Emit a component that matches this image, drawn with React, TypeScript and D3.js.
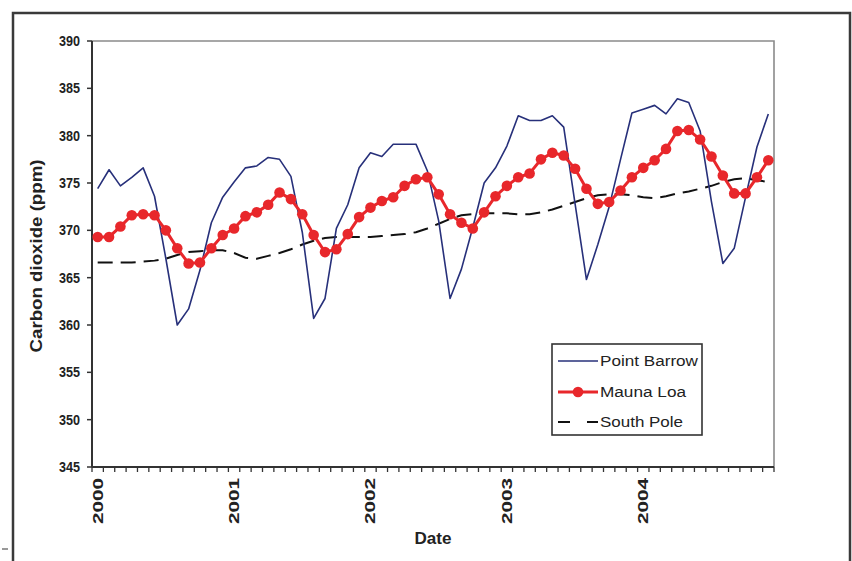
import React from 'react';
import * as d3 from 'd3';

const years = ['2000', '2001', '2002', '2003', '2004'];
const yTicks = [345, 350, 355, 360, 365, 370, 375, 380, 385, 390];
const seriesNames = ['Point Barrow', 'Mauna Loa', 'South Pole'];

const pointBarrow = [
  374.4, 376.4, 374.7, 375.6, 376.6, 373.6, 367.0, 360.0, 361.7, 365.8, 370.8, 373.5,
  375.1, 376.6, 376.8, 377.7, 377.5, 375.7, 369.8, 360.7, 362.8, 370.2, 372.7, 376.6,
  378.2, 377.8, 379.1, 379.1, 379.1, 376.3, 371.0, 362.8, 365.9, 370.3, 375.0, 376.6,
  378.9, 382.1, 381.6, 381.6, 382.1, 380.9, 372.8, 364.8, 368.5, 372.5, 377.5, 382.4,
  382.8, 383.2, 382.3, 383.9, 383.5, 380.5, 373.0, 366.5, 368.1, 373.5, 378.8, 382.3,
];

const maunaLoa = [
  369.3, 369.3, 370.4, 371.6, 371.7, 371.6, 370.0, 368.1, 366.5, 366.6, 368.1, 369.5,
  370.2, 371.5, 371.9, 372.7, 374.0, 373.3, 371.7, 369.5, 367.7, 368.0, 369.6, 371.4,
  372.4, 373.1, 373.5, 374.7, 375.4, 375.6, 373.8, 371.7, 370.8, 370.2, 371.9, 373.6,
  374.7, 375.6, 376.0, 377.5, 378.2, 377.9, 376.5, 374.4, 372.8, 373.0, 374.2, 375.6,
  376.6, 377.4, 378.6, 380.5, 380.6, 379.6, 377.8, 375.8, 373.9, 373.9, 375.6, 377.4,
];

const southPole = [
  366.6, 366.6, 366.6, 366.6, 366.7, 366.8, 367.0, 367.4, 367.7, 367.8, 367.9, 367.9,
  367.6, 367.1, 367.0, 367.3, 367.6, 368.0, 368.5, 368.9, 369.2, 369.3, 369.3, 369.3,
  369.3, 369.4, 369.5, 369.6, 369.8, 370.2, 370.7, 371.2, 371.6, 371.7, 371.8, 371.8,
  371.8, 371.7, 371.7, 371.9, 372.2, 372.6, 373.0, 373.4, 373.7, 373.8, 373.8, 373.7,
  373.5, 373.4, 373.6, 373.9, 374.1, 374.4, 374.7, 375.1, 375.4, 375.5, 375.3, 375.1,
];

const FONT = '"Liberation Sans Narrow", "Arial Narrow", "Liberation Sans", Arial, sans-serif';

export default function App() {
  const W = 852;
  const H = 561;
  const left = 92;
  const right = 774;
  const top = 41;
  const bottom = 467;

  const months = d3.range(pointBarrow.length);
  const x = d3.scaleBand<number>().domain(months).range([left, right]).padding(0);
  const y = d3.scaleLinear().domain([345, 390]).range([bottom, top]);
  const cx = (i: number) => (x(i) as number) + x.bandwidth() / 2;

  const line = d3
    .line<number>()
    .x((_, i) => cx(i))
    .y((d) => y(d));

  const red = '#e8272b';
  const navy = '#27307a';

  const boundaries = d3.range(pointBarrow.length + 1).map((i) => left + i * x.bandwidth());

  const legX = 552;
  const legY = 344;
  const legRows = [361, 392, 422];

  return (
    <svg
      width={W}
      height={H}
      style={{ position: 'absolute', left: 0, top: 0, background: '#fff' }}
      fontFamily={FONT}
    >
      <rect x={0} y={0} width={W} height={H} fill="#fff" />
      {/* outer frame */}
      <path d={`M13,${H + 5} L13,13 L850,13 L850,${H + 5}`} fill="none" stroke="#3a3a3a" strokeWidth={2.5} />
      <line x1={2} x2={8} y1={549} y2={549} stroke="#555" strokeWidth={1.2} />

      {/* plot area border top/right */}
      <path d={`M${left},${top} L${right},${top} L${right},${bottom}`} fill="none" stroke="#8a8a8a" strokeWidth={1.6} />

      {/* y axis */}
      <line x1={left} x2={left} y1={top} y2={bottom} stroke="#333" strokeWidth={2} />
      {yTicks.map((t) => (
        <g key={t}>
          <line x1={left - 5} x2={left} y1={y(t)} y2={y(t)} stroke="#333" strokeWidth={1.5} />
          <text
            x={80}
            y={y(t)}
            dy="0.36em"
            textAnchor="end"
            fontSize={14}
            fontWeight="bold"
            fill="#222"
            textLength={21}
            lengthAdjust="spacingAndGlyphs"
          >
            {t}
          </text>
        </g>
      ))}
      <text
        transform={`translate(42,256) rotate(-90)`}
        textAnchor="middle"
        fontSize={16}
        fontWeight="bold"
        fill="#222"
        textLength={193}
        lengthAdjust="spacingAndGlyphs"
      >
        Carbon dioxide (ppm)
      </text>

      {/* x axis */}
      <line x1={left} x2={right} y1={bottom} y2={bottom} stroke="#333" strokeWidth={2} />
      {boundaries.map((b, i) => (
        <line key={i} x1={b} x2={b} y1={bottom} y2={bottom + 5} stroke="#333" strokeWidth={1.3} />
      ))}
      {years.map((yr, k) => (
        <text
          key={yr}
          transform={`translate(${cx(k * 12) + 5},478) rotate(-90)`}
          textAnchor="end"
          fontSize={14}
          fontWeight="bold"
          fill="#222"
          textLength={46}
          lengthAdjust="spacingAndGlyphs"
        >
          {yr}
        </text>
      ))}
      <text
        x={433}
        y={544}
        textAnchor="middle"
        fontSize={16}
        fontWeight="bold"
        fill="#222"
        textLength={37}
        lengthAdjust="spacingAndGlyphs"
      >
        Date
      </text>

      {/* series */}
      <path d={line(southPole) ?? ''} fill="none" stroke="#111" strokeWidth={2} strokeDasharray="15,8" />
      <path d={line(pointBarrow) ?? ''} fill="none" stroke={navy} strokeWidth={1.6} strokeLinejoin="round" />
      <path d={line(maunaLoa) ?? ''} fill="none" stroke={red} strokeWidth={3} />
      {maunaLoa.map((v, i) => (
        <circle key={i} cx={cx(i)} cy={y(v)} r={5.3} fill={red} />
      ))}

      {/* legend */}
      <rect x={legX} y={legY} width={150} height={91} fill="#fff" stroke="#333" strokeWidth={1.6} />
      <line x1={558} x2={598} y1={legRows[0]} y2={legRows[0]} stroke={navy} strokeWidth={1.6} />
      <line x1={558} x2={598} y1={legRows[1]} y2={legRows[1]} stroke={red} strokeWidth={3} />
      <circle cx={578} cy={legRows[1]} r={5.3} fill={red} />
      <line x1={558} x2={598} y1={legRows[2]} y2={legRows[2]} stroke="#111" strokeWidth={2} strokeDasharray="12,17" />
      {seriesNames.map((n, i) => (
        <text
          key={n}
          x={600}
          y={legRows[i]}
          dy="0.36em"
          fontSize={14}
          fill="#222"
          textLength={[98, 86, 83][i]}
          lengthAdjust="spacingAndGlyphs"
        >
          {n}
        </text>
      ))}
    </svg>
  );
}
